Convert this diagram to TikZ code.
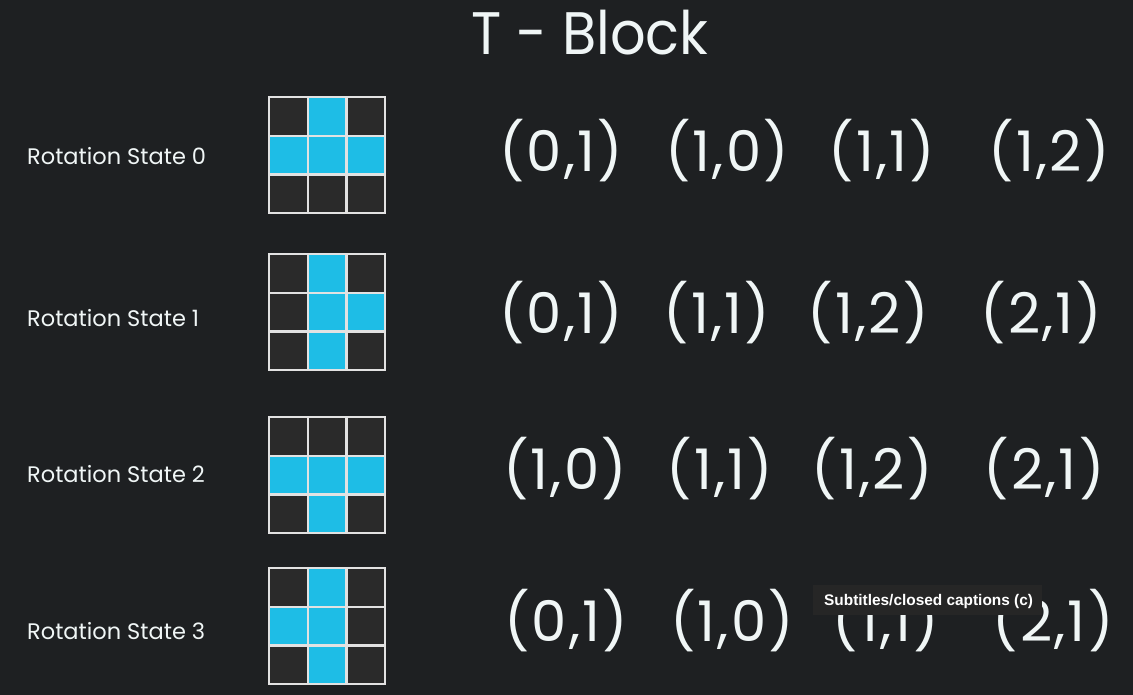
\documentclass[tikz,border=0pt]{standalone}
\usepackage{fontspec}
\setmainfont{Poppins}
\newfontfamily\coordfont[LetterSpace=4]{Poppins}
\newfontfamily\titlefont[FakeStretch=0.93]{Poppins}
\newfontfamily\capfont{Liberation Sans}
\definecolor{bg}{HTML}{1E2022}
\definecolor{cellbg}{HTML}{2A2A2A}
\definecolor{cyanblk}{HTML}{1EBDE6}
\definecolor{gridln}{HTML}{E2E2E2}
\definecolor{txt}{HTML}{F0F6F6}
\definecolor{capbg}{HTML}{262626}
\tikzset{
  cellbox/.style={draw=gridln, line width=2.2pt, fill=cellbg},
  oncell/.style={draw=gridln, line width=2.2pt, fill=cyanblk},
  coordtxt/.style={text=txt, anchor=base, inner sep=0pt, font=\coordfont\fontsize{56}{60}\selectfont},
  labeltxt/.style={text=txt, anchor=base west, inner sep=0pt, font=\fontsize{22.5}{26}\selectfont},
  titletxt/.style={text=txt, anchor=base, inner sep=0pt, font=\titlefont\fontsize{60}{64}\selectfont},
}
\begin{document}
\begin{tikzpicture}[x=1pt,y=-1pt]
\fill[bg] (0,0) rectangle (1133,695);
\useasboundingbox (0,0) rectangle (1133,695);
\node[titletxt] (title) at (590,55) {T - Block};
% grids
\def\cs{38.67}
\foreach \ry/\cells [count=\k] in {96/{1,3,4,5},253/{1,4,5,7},416/{3,4,5,7},567/{1,3,4,7}}{
  \foreach \i in {0,...,8}{
    \pgfmathtruncatemacro{\rr}{int(\i/3)}
    \pgfmathtruncatemacro{\cc}{mod(\i,3)}
    \def\st{cellbox}
    \foreach \f in \cells {\ifnum\f=\i\global\def\st{oncell}\fi}
    \node[\st, minimum size=\cs pt, inner sep=0pt, anchor=north west] (g\k-\i) at (268+\cc*\cs, \ry+\rr*\cs) {};
  }
}
% labels
\node[labeltxt] (l0) at (27,165) {Rotation State 0};
\node[labeltxt] (l1) at (27,326) {Rotation State 1};
\node[labeltxt] (l2) at (27,482) {Rotation State 2};
\node[labeltxt] (l3) at (27,639) {Rotation State 3};
% coordinates
\node[coordtxt] (a1) at (561,172) {(0,1)};
\node[coordtxt] (a2) at (727,172) {(1,0)};
\node[coordtxt] (a3) at (882,172) {(1,1)};
\node[coordtxt] (a4) at (1049,172) {(1,2)};
\node[coordtxt] (b1) at (561,333) {(0,1)};
\node[coordtxt] (b2) at (717,333) {(1,1)};
\node[coordtxt] (b3) at (868,333) {(1,2)};
\node[coordtxt] (b4) at (1041,333) {(2,1)};
\node[coordtxt] (c1) at (565,489) {(1,0)};
\node[coordtxt] (c2) at (720,489) {(1,1)};
\node[coordtxt] (c3) at (872,489) {(1,2)};
\node[coordtxt] (c4) at (1044,489) {(2,1)};
\node[coordtxt] (d1) at (566,641) {(0,1)};
\node[coordtxt] (d2) at (732,641) {(1,0)};
\node[coordtxt] (d3) at (886,641) {(1,1)};
\node[coordtxt] (d4) at (1053,641) {(2,1)};
% caption overlay
\fill[capbg] (813,585) rectangle (1042,615);
\node[text=white, anchor=base west, inner sep=0pt, font=\capfont\bfseries\fontsize{15.4}{17}\selectfont] (cap) at (824,605) {Subtitles/closed captions (c)};
\end{tikzpicture}
\end{document}
